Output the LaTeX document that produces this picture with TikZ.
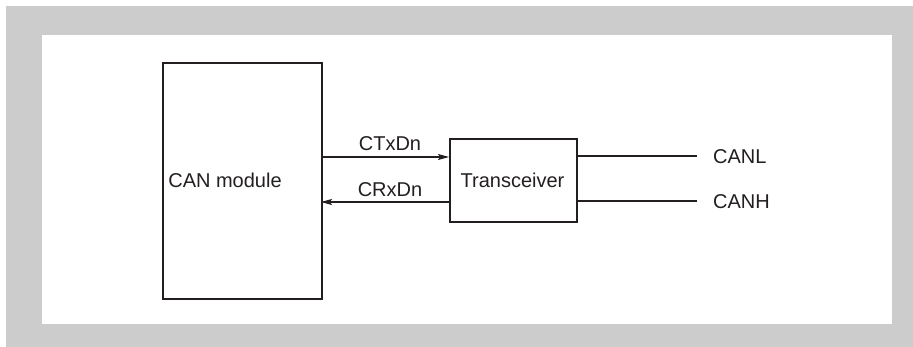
\documentclass[tikz,border=0pt]{standalone}
\usepackage{fontspec}
\setmainfont{Liberation Sans}
\usetikzlibrary{arrows.meta}
\definecolor{frame}{HTML}{CCCCCC}
\definecolor{ink}{HTML}{231F20}
\begin{document}
\begin{tikzpicture}[x=1pt,y=-1pt,
  blockbox/.style={draw=ink,line width=2pt,inner sep=0pt,anchor=north west},
  lbl/.style={font=\fontsize{20}{24}\selectfont,text=ink,inner sep=0pt},
  wire/.style={draw=ink,line width=1.1pt},
  sig/.style={wire,-{Stealth[length=11pt,width=6pt,inset=2pt]}}]
\useasboundingbox (0,0) rectangle (913,347);
\fill[frame] (6,6) rectangle (913,347);
\fill[white] (42,35) rectangle (892,324);
\node[blockbox,minimum width=159pt,minimum height=236pt] (can) at (162,62) {};
\node[blockbox,minimum width=127pt,minimum height=83pt] (tr) at (449,138) {};
\node[lbl] (canlbl) at (225,180) {CAN module};
\node[lbl] (trlbl) at (512.5,180) {Transceiver};
\node[lbl,anchor=base] (ctx) at (390,151) {CTxDn};
\node[lbl,anchor=base] (crx) at (390,197) {CRxDn};
\node[lbl,anchor=base west] (canl) at (713,164) {CANL};
\node[lbl,anchor=base west] (canh) at (713,209) {CANH};
\coordinate (ctxs) at (321,157);
\coordinate (crxe) at (321,202);
\coordinate (canle) at (697,156);
\coordinate (canhe) at (697,201);
\draw[sig] (ctxs) -- (tr.west |- ctxs);
\draw[sig] (tr.west |- crxe) -- (crxe);
\draw[wire] (tr.east |- canle) -- (canle);
\draw[wire] (tr.east |- canhe) -- (canhe);
\end{tikzpicture}
\end{document}
